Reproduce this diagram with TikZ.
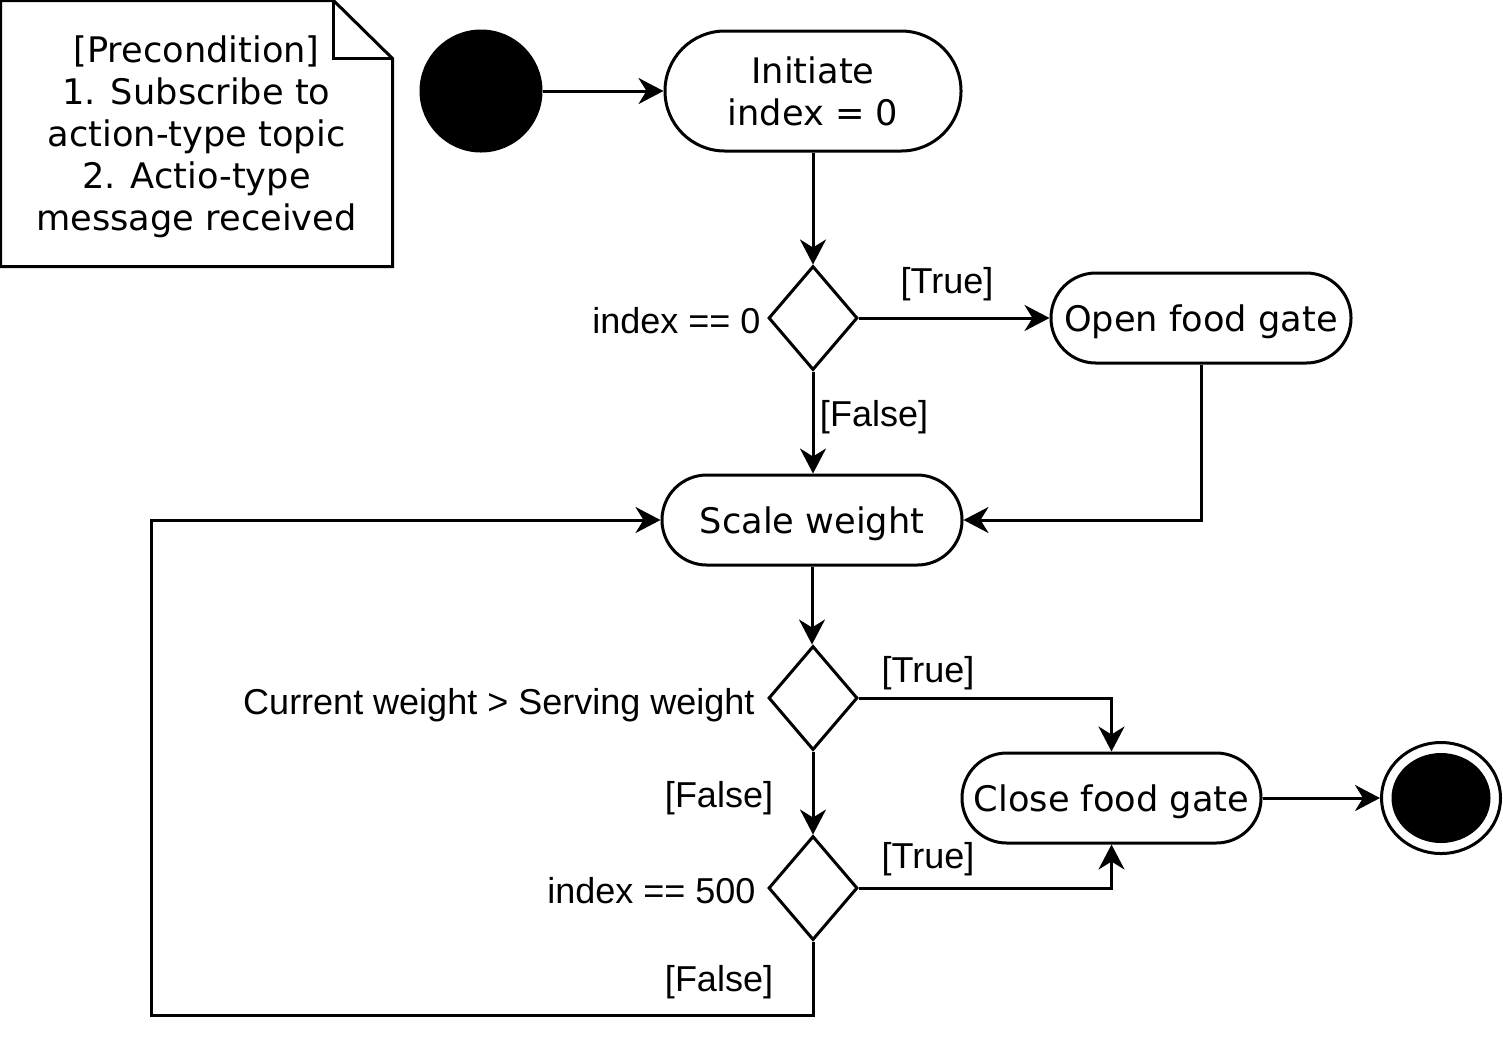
\documentclass[tikz,border=0pt]{standalone}
\usepackage{fontspec}
\setmainfont{DejaVu Sans}
\newfontfamily\labfont{Liberation Sans}
\usetikzlibrary{shapes.geometric,arrows.meta}
\begin{document}
\begin{tikzpicture}[x=0.5pt,y=-0.5pt, line width=1.5pt,
  nodefont/.style={font=\fontsize{17.6}{21}\selectfont},
  act/.style={draw, nodefont, rounded corners=22.4pt, minimum width=150pt, minimum height=45pt, inner sep=0pt, align=center},
  oneline/.style={text depth=0pt},
  decision/.style={draw, diamond, inner sep=0pt, minimum width=44.5pt, minimum height=52pt, aspect=0.86},
  lab/.style={font=\labfont\fontsize{18}{21}\selectfont, inner sep=0pt},
  arr/.style={-{Stealth[length=12.5pt,width=13pt,inset=4pt]}},
  ]
\useasboundingbox (0,0) rectangle (1503,1041);
% note
\node[nodefont, align=center, minimum width=194.5pt, minimum height=131.5pt, inner sep=0pt, text depth=0pt] (note) at (196.5,133.5)
  {[Precondition]\\1. Subscribe to\\action-type topic\\2. Actio-type\\message received};
\draw (note.north west) -- ([xshift=-29.5pt]note.north east) -- ([yshift=-29pt]note.north east)
  -- (note.south east) -- (note.south west) -- cycle;
\draw ([xshift=-29.5pt]note.north east) -- ([xshift=-29.5pt,yshift=-29pt]note.north east) -- ([yshift=-29pt]note.north east);
% nodes
\node[draw, fill, circle, minimum size=60pt, inner sep=0pt] (start) at (481,91) {};
\node[act, minimum height=60pt, rounded corners=29.9pt, minimum width=148pt] (init) at (813,91) {Initiate\\index = 0};
\node[decision] (dec1) at (813,318) {};
\node[act, oneline] (open) at (1201,318) {Open food gate};
\node[act, oneline] (scale) at (812,520) {Scale weight};
\node[decision] (dec2) at (813,698) {};
\node[act, oneline, minimum width=149.5pt] (close) at (1111.5,798) {Close food gate};
\node[decision] (dec3) at (813,888) {};
\node[draw, ellipse, minimum width=59.5pt, minimum height=55.5pt, inner sep=0pt] (end) at (1441,798) {};
\node[fill, ellipse, minimum width=49.5pt, minimum height=45pt, inner sep=0pt] (endin) at (1441,798) {};
% condition labels
\node[lab, anchor=base east] (l1) at (762,333) {index == 0};
\node[lab, anchor=base east] (l2) at (756,714) {Current weight > Serving weight};
\node[lab, anchor=base east] (l3) at (757,903) {index == 500};
% edge labels
\node[lab] (t1) at (947,284) {[True]};
\node[lab] (f1) at (874,417) {[False]};
\node[lab] (t2) at (928,673) {[True]};
\node[lab] (f2) at (719,798) {[False]};
\node[lab] (t3) at (928,859) {[True]};
\node[lab] (f3) at (719,982) {[False]};
% connectors
\coordinate (lp) at (151,1015);
\draw[arr] (start) -- (init);
\draw[arr] (init.south) -- (dec1.north);
\draw[arr] (dec1.east) -- (open.west);
\draw[arr] (dec1.south) -- (dec1.south |- scale.north);
\draw[arr] (open.south) |- (scale.east);
\draw[arr] (scale.south) -- (scale.south |- dec2.north);
\draw[arr] (dec2.east) -| (close.north);
\draw[arr] (dec2.south) -- (dec3.north);
\draw[arr] (dec3.east) -| (close.south);
\draw[arr] (close.east) -- (end.west);
\draw[arr] (dec3.south) |- (lp) |- (scale.west);
\end{tikzpicture}
\end{document}
